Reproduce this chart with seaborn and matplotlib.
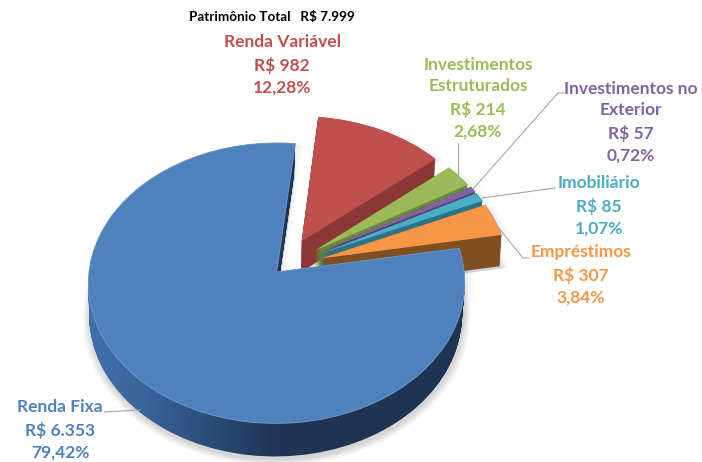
import numpy as np
import matplotlib
matplotlib.use("Agg")
import matplotlib.pyplot as plt
import seaborn as sns
from matplotlib.lines import Line2D
from matplotlib.path import Path
from matplotlib.transforms import Transform, Affine2D

# ---- data (counter-clockwise from the top of "Renda Fixa") ----
names = ["Renda Fixa", "Empréstimos", "Imobiliário",
         "Investimentos no\nExterior", "Investimentos\nEstruturados", "Renda Variável"]
values = [6353, 307, 85, 57, 214, 982]
value_labels = ["R$ 6.353", "R$ 307", "R$ 85", "R$ 57", "R$ 214", "R$ 982"]
percent_labels = ["79,42%", "3,84%", "1,07%", "0,72%", "2,68%", "12,28%"]
title = "Patrimônio Total   R$ 7.999"

# ---- style ----
top_colors = ["#4F81BD", "#F79646", "#4BACC6", "#8064A2", "#9BBB59", "#C0504D"]
side_colors = ["#2C5080", "#7F4F22", "#2B7488", "#54406E", "#6B8A38", "#8A3735"]
explode = [0.05, 0.215, 0.215, 0.215, 0.21, 0.215]
label_xy = [(60, 430), (581, 275), (599, 206), (631, 122), (478, 98), (282, 65)]
START = 84
DEPTH = 0.225
LEAN = 0.02
TAPER = 0.12
LAYERS = 32
TILT = 0.079

sns.set_theme(style="white")
plt.rcParams["font.family"] = ["Lato", "DejaVu Sans"]

fig = plt.figure(figsize=(7.02, 4.62), dpi=100, facecolor="white")
ax = fig.add_axes([0, 0, 1, 1])


class Tilt(Transform):
    """Perspective of the pie plane: the far side looks smaller."""
    input_dims = output_dims = 2
    is_affine = False
    is_separable = False

    def transform_non_affine(self, v):
        v = np.asarray(v, dtype=float)
        w = 1 + TILT * v[:, 1]
        return np.column_stack([v[:, 0] / w, v[:, 1] / w])


def pie(colors, center=(0, 0), radius=1.0, zorder=1, **wedgeprops):
    wedges, _ = ax.pie(values, explode=explode, colors=colors, startangle=START,
                       counterclock=True, center=center, radius=radius,
                       wedgeprops=wedgeprops, normalize=True)
    for w in wedges:
        w.set_transform(Tilt() + ax.transData)
        w.set_zorder(zorder)
    return wedges


# soft shadow
for r in np.linspace(0.975, 1.01, 7):
    pie(["black"] * 6, center=(0.0, -DEPTH - 0.018), radius=r, zorder=0,
        alpha=0.022, linewidth=0)
for dx in np.linspace(0.01, 0.05, 6):
    pie(["black"] * 6, center=(dx, -0.01), zorder=0, alpha=0.012, linewidth=0)

# walls: stacked pies, deepest first
blue_wall = []
for d in np.linspace(DEPTH, 0, LAYERS):
    wedges = pie(side_colors, center=(-LEAN * d, -d), radius=1 - TAPER * d, zorder=1, linewidth=0)
    blue_wall.append(wedges[0].get_path())
    wedges[0].set_visible(False)

# shaded wall of the big slice
xlim = (-283 / 187, (702 - 283) / 187)
ylim = (-195 / 138.5, 267 / 138.5)
cmap = sns.blend_palette(["#4272AC", "#3A659B", "#2B4D78", "#1F3656", "#1E3452", "#1E3452", "#1E3452"],
                         as_cmap=True)
im = ax.imshow(np.linspace(0, 1, 256)[None, :], cmap=cmap, aspect="auto", zorder=2,
               extent=(-1.1, 1.0, -1.6, 1.2))
im.set_clip_path(Path.make_compound_path(*blue_wall), Tilt() + ax.transData)

# top faces
top = pie(top_colors, zorder=3, linewidth=0)
rim = pie(["none"] * 6, zorder=4, linewidth=0.7, edgecolor="#6C97CC")
for w in rim[1:]:
    w.set_visible(False)

ax.set_aspect("auto")
ax.set_xlim(*xlim)
ax.set_ylim(*ylim)
ax.set_axis_off()

# ---- texts and leader lines, placed in picture pixels ----
px = Affine2D().scale(1, -1).translate(0, 462)

for name, val, pct, (x, y), col in zip(names, value_labels, percent_labels, label_xy, top_colors):
    ax.text(x, y, f"{name}\n{val}\n{pct}", transform=px, color=col, ha="center", va="center",
            fontsize=12.5, fontweight="bold", linespacing=1.45, zorder=6, clip_on=False)
ax.text(272, 17, title, transform=px, color="black", ha="center", va="center",
        fontsize=9.7, fontweight="bold", zorder=6)

leaders = [
    ([104, 140], [412, 410]),
    ([458, 458], [143, 175]),
    ([564, 558, 473], [93, 93, 189]),
    ([555, 482], [188, 198]),
    ([529, 523, 498], [258, 258, 227]),
]
for xs, ys in leaders:
    fig.add_artist(Line2D(xs, ys, transform=px, color="#A6A6A6", lw=0.8, zorder=5))

fig.savefig("out.png", dpi=100, facecolor="white")
